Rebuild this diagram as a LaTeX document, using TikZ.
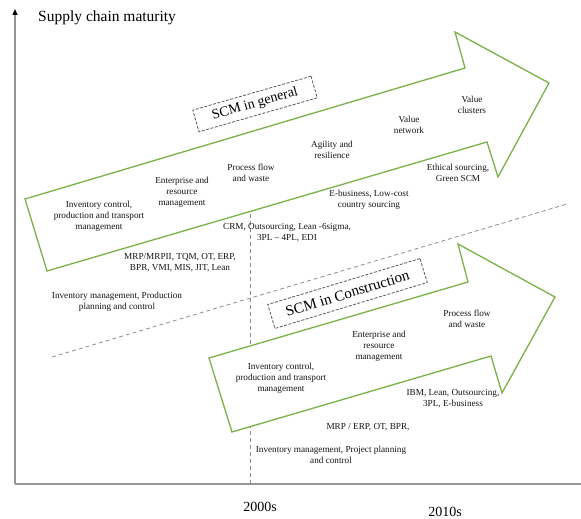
\documentclass[tikz,border=0pt]{standalone}
\usepackage{fontspec}
\setmainfont{Liberation Serif}
\usetikzlibrary{arrows.meta}
\definecolor{scmgreen}{RGB}{120,178,72}
\definecolor{axisgray}{RGB}{150,150,150}
\definecolor{dashgray}{RGB}{140,140,140}
\definecolor{boxgray}{RGB}{90,90,90}
\definecolor{inkgray}{RGB}{20,20,20}
\begin{document}
\begin{tikzpicture}[x=1pt,y=-1pt,
  bigarrow/.style={draw=scmgreen,line width=1.3pt,fill=white,line join=miter},
  guide/.style={draw=dashgray,line width=0.8pt,dash pattern=on 4pt off 3pt},
  axisline/.style={draw=axisgray,line width=1.3pt},
  lbl/.style={font=\fontsize{9.2}{10.8}\selectfont,text=inkgray,align=center,inner sep=0pt},
  titlebox/.style={draw=boxgray,line width=0.8pt,dash pattern=on 3pt off 1.5pt,fill=white,
    inner sep=0pt,text=black},
  era/.style={font=\fontsize{14}{16}\selectfont,text=black,inner sep=0pt}]
\useasboundingbox (0,0) rectangle (581,519);

% axes
\coordinate (O) at (15,484);
\coordinate (ytop) at (15,9);
\coordinate (xend) at (581,484);
\draw[axisline] (O) -- (xend);
\draw[axisline,-{Triangle[length=6pt,width=5pt,color=black]}] (O) -- (ytop);
\node[anchor=west,font=\fontsize{15.5}{18}\selectfont,inner sep=0pt] (ylabel) at (38,18) {Supply chain maturity};

% dashed guides: era boundary and domain divider
\coordinate (eraTop) at (250,200);
\coordinate (eraBot) at (250,484);
\coordinate (divL) at (52,357);
\coordinate (divR) at (567,204);
\draw[guide] (eraTop) -- (eraBot);
\draw[guide] (divL) -- (divR);

% SCM in general
\draw[bigarrow] (25,199) -- (465,68) -- (455,32) -- (549,83) -- (498,177) -- (487,142) -- (47,271) -- cycle;
% SCM in construction
\draw[bigarrow] (209,358) -- (468,282) -- (458,244) -- (555,297) -- (502,393) -- (491,356) -- (232,432) -- cycle;

\node[titlebox,minimum width=123pt,minimum height=22.5pt,rotate=16,font=\fontsize{14}{16}\selectfont] (genbox) at (255,104) {SCM in general};
\node[titlebox,minimum width=159pt,minimum height=25pt,rotate=16.8,font=\fontsize{15}{17}\selectfont] (conbox) at (347.5,293.5) {SCM in Construction};

% general supply chain themes
\node[lbl] (invU) at (99,216) {Inventory control,\\production and transport\\management};
\node[lbl] (entU) at (182,192) {Enterprise and\\resource\\management};
\node[lbl] (procU) at (251,173) {Process flow\\and waste};
\node[lbl] (agil) at (332,150) {Agility and\\resilience};
\node[lbl] (valnet) at (409,125) {Value\\network};
\node[lbl] (valclu) at (472,105) {Value\\clusters};
\node[lbl] (ethic) at (458,173) {Ethical sourcing,\\Green SCM};
\node[lbl] (ebiz) at (369,200) {E-business, Low-cost\\country sourcing};
\node[lbl] (crm) at (287,233) {CRM, Outsourcing, Lean -6sigma,\\3PL -- 4PL, EDI};
\node[lbl] (mrpU) at (180,263) {MRP/MRPII, TQM, OT, ERP,\\BPR, VMI, MIS, JIT, Lean};
\node[lbl] (invmU) at (117,302) {Inventory management, Production\\planning and control};

% construction themes
\node[lbl] (invL) at (281,378) {Inventory control,\\production and transport\\management};
\node[lbl] (entL) at (379,346) {Enterprise and\\resource\\management};
\node[lbl] (procL) at (467,319) {Process flow\\and waste};
\node[lbl] (bim) at (453,399) {IBM, Lean, Outsourcing,\\3PL, E-business};
\node[lbl] (mrpL) at (368,427) {MRP / ERP, OT, BPR,};
\node[lbl] (invmL) at (331,455) {Inventory management, Project planning\\and control};

% time axis labels
\node[era] (y2000) at (260,507) {2000s};
\node[era] (y2010) at (445,512) {2010s};
\end{tikzpicture}
\end{document}
